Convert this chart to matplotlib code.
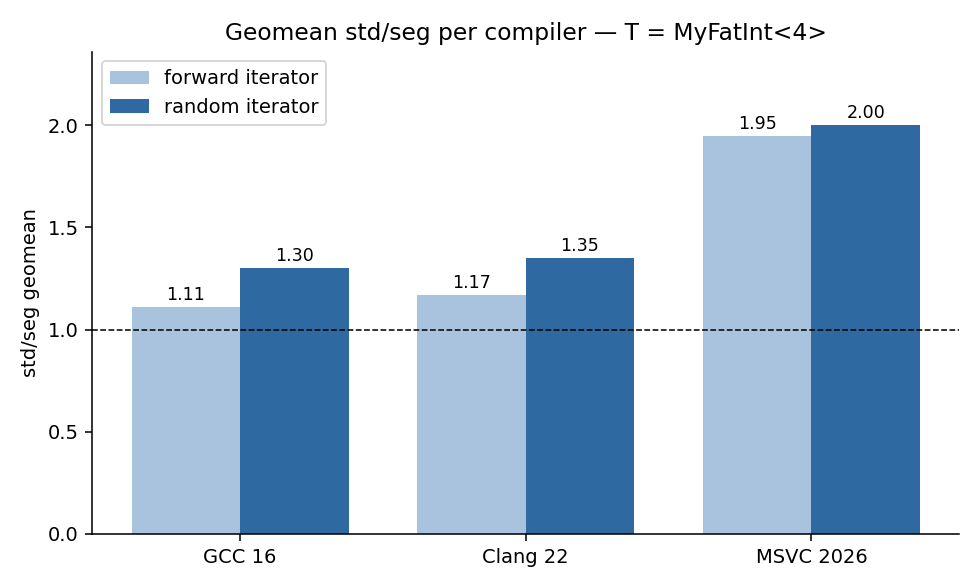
import matplotlib
matplotlib.use("Agg")
import matplotlib.pyplot as plt
import numpy as np

compilers = ["GCC 16", "Clang 22", "MSVC 2026"]
forward = [1.11, 1.17, 1.95]
random_ = [1.30, 1.35, 2.00]

fig, ax = plt.subplots(figsize=(7.0, 4.2), dpi=140)
x = np.arange(len(compilers))
w = 0.38
b1 = ax.bar(x - w/2, forward, w, color="#a9c3df", label="forward iterator")
b2 = ax.bar(x + w/2, random_, w, color="#2e6aa1", label="random iterator")
ax.bar_label(b1, fmt="%.2f", padding=1.5, fontsize=9)
ax.bar_label(b2, fmt="%.2f", padding=1.5, fontsize=9)
ax.axhline(1.0, color="black", linestyle="--", linewidth=0.8)
ax.set_xticks(x)
ax.set_xticklabels(compilers)
ax.set_ylabel("std/seg geomean")
ax.set_ylim(0, 2.36)
ax.set_title("Geomean std/seg per compiler — T = MyFatInt<4>")
ax.spines["top"].set_visible(False)
ax.spines["right"].set_visible(False)
ax.legend(loc="upper left")
fig.subplots_adjust(left=0.094, right=0.979, top=0.912, bottom=0.092)
fig.savefig("out.png", dpi=140)
